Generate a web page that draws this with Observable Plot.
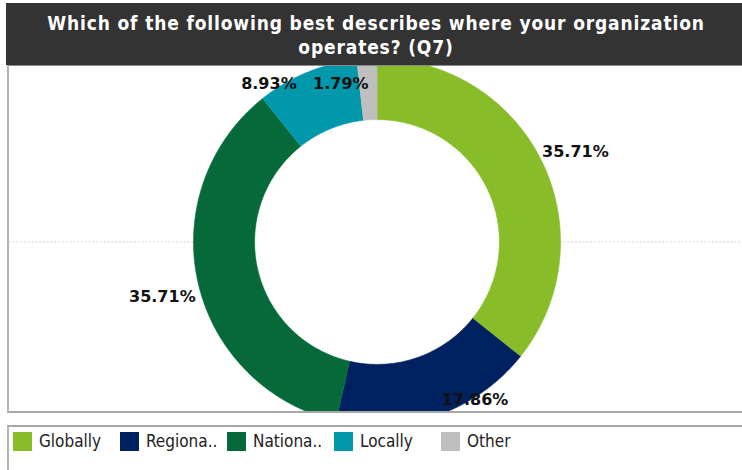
<!DOCTYPE html>
<html>
<head>
<meta charset="utf-8">
<script src="https://cdn.jsdelivr.net/npm/d3@7"></script>
<script src="https://cdn.jsdelivr.net/npm/@observablehq/plot@0.6"></script>
<style>
  html, body { margin: 0; padding: 0; background: #fff; }
  body { width: 742px; height: 470px; overflow: hidden; position: relative; }
  #title {
    position: absolute; left: 6px; top: 3px; width: 740px; height: 62px;
    background: #333333; color: #fff; text-align: center;
    font-family: "DejaVu Sans Condensed", "DejaVu Sans", sans-serif; font-stretch: condensed;
    font-weight: bold; font-size: 19px; letter-spacing: 0.85px; line-height: 24px; box-sizing: border-box; padding-top: 8px;
  }
  #plotbox {
    position: absolute; left: 7px; top: 65px; width: 745px; height: 348px;
    border-left: 2px solid #b4b4b4; border-top: 1px solid #8a8a8a; border-bottom: 2px solid #a8a8a8;
    box-sizing: border-box; overflow: hidden;
  }
  #plotbox svg { display: block; }
  #legend {
    position: absolute; left: 7px; top: 425px; width: 745px; height: 60px;
    border-left: 2px solid #b4b4b4; border-top: 2px solid #a8a8a8; box-sizing: border-box;
    font-family: "DejaVu Sans Condensed", "DejaVu Sans", sans-serif; font-stretch: condensed;
    font-size: 17px; color: #222;
  }
  .item { position: absolute; top: 4px; height: 20px; display: flex; align-items: center; white-space: nowrap; }
  .sw { width: 19px; height: 19px; margin-right: 7px; flex: none; }
</style>
</head>
<body>
<div id="title">Which of the following best describes where your organization<br>operates? (Q7)</div>
<div id="plotbox"></div>
<div id="legend"></div>
<script>
// ---- data ----
const categories = ["Globally", "Regionally", "Nationally", "Locally", "Other"];
const percents = [35.71, 17.86, 35.71, 8.93, 1.79];
const colors = ["#88bc28", "#00215f", "#05693a", "#0098aa", "#bfbfbf"];

// ---- geometry (unit coordinates, outer radius = 1) ----
const W = 736, H = 345;
const cx = 367.5, cy = 175.5, R = 183.5;
const inner = 0.667;
const labelR = 1.2;
const clampY = 0.86;

const pie = d3.pie().sort(null).value(d => d.value)(categories.map((c, i) => ({cat: c, value: percents[i]})));

const slicePts = [];
for (const s of pie) {
  const a0 = s.startAngle, a1 = s.endAngle;
  const n = Math.max(4, Math.ceil((a1 - a0) / 0.01));
  for (let k = 0; k <= n; k++) {
    const a = a0 + (a1 - a0) * k / n;
    slicePts.push({cat: s.data.cat, x: Math.sin(a), y: Math.cos(a)});
  }
  for (let k = n; k >= 0; k--) {
    const a = a0 + (a1 - a0) * k / n;
    slicePts.push({cat: s.data.cat, x: inner * Math.sin(a), y: inner * Math.cos(a)});
  }
}
const holePts = d3.range(0, 361).map(d => {
  const a = d * Math.PI / 180;
  return {x: inner * Math.sin(a), y: inner * Math.cos(a)};
});

const labels = pie.map(s => {
  const a = (s.startAngle + s.endAngle) / 2;
  const x = labelR * Math.sin(a);
  let y = labelR * Math.cos(a) - 0.03;
  let anchor = "middle";
  if (Math.abs(y) > clampY) {
    y = Math.sign(y) * clampY;
    anchor = x > 0 ? "start" : "end";
  }
  return {x, y, anchor, text: s.data.value.toFixed(2) + "%"};
});

const textOpts = {x: "x", y: "y", text: "text", fontWeight: "bold", fontSize: 16,
  fontFamily: "DejaVu Sans, sans-serif", fill: "#111"};

const chart = Plot.plot({
  width: W, height: H,
  marginTop: 0, marginRight: 0, marginBottom: 0, marginLeft: 0,
  x: {domain: [-1, 1], range: [cx - R, cx + R], axis: null},
  y: {domain: [-1, 1], range: [cy + R, cy - R], axis: null},
  color: {domain: categories, range: colors},
  marks: [
    Plot.ruleY([0], {stroke: "#c8c8c8", strokeDasharray: "1.5,2.3", strokeWidth: 1}),
    Plot.line(holePts, {x: "x", y: "y", fill: "white", stroke: "none", clip: true}),
    Plot.line(slicePts, {x: "x", y: "y", z: "cat", fill: "cat", stroke: "cat", strokeWidth: 0.6, clip: true}),
    Plot.text(labels.filter(d => d.anchor === "middle"), {...textOpts, textAnchor: "middle"}),
    Plot.text(labels.filter(d => d.anchor === "start"), {...textOpts, textAnchor: "start", dx: -8}),
    Plot.text(labels.filter(d => d.anchor === "end"), {...textOpts, textAnchor: "end", dx: 4})
  ]
});
document.getElementById("plotbox").appendChild(chart);

// ---- legend ----
const colorScale = chart.scale("color");
const legend = document.getElementById("legend");
const truncate = s => s.length > 8 ? s.slice(0, 7) + ".." : s;
categories.forEach((c, i) => {
  const item = document.createElement("div");
  item.className = "item";
  item.style.left = (4 + i * 107) + "px";
  const sw = document.createElement("span");
  sw.className = "sw";
  sw.style.background = colorScale.range[i];
  const t = document.createElement("span");
  t.textContent = truncate(c);
  item.appendChild(sw);
  item.appendChild(t);
  legend.appendChild(item);
});
</script>
</body>
</html>
